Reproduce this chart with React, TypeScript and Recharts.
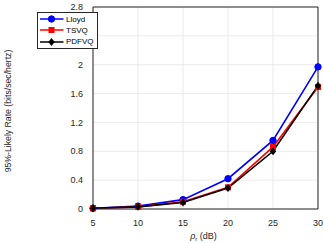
import React from "react";
import {
  LineChart,
  Line,
  XAxis,
  YAxis,
  CartesianGrid,
  Legend,
  ReferenceLine,
} from "recharts";

const rho = [5, 10, 15, 20, 25, 30];
const lloyd = [0.01, 0.04, 0.13, 0.42, 0.95, 1.97];
const tsvq = [0.01, 0.03, 0.1, 0.3, 0.86, 1.69];
const pdfvq = [0.01, 0.03, 0.09, 0.29, 0.8, 1.71];
const xTicks = [5, 10, 15, 20, 25, 30];
const yTicks = [0, 0.4, 0.8, 1.2, 1.6, 2, 2.4, 2.8];

const data = rho.map((r, i) => ({
  rho: r,
  lloyd: lloyd[i],
  tsvq: tsvq[i],
  pdfvq: pdfvq[i],
}));

const FONT = "'Liberation Sans', Arial, sans-serif";
const AXIS = "#262626";
const tickStyle = { fontSize: 9, fill: AXIS, fontFamily: FONT };

const Circle = (props: any) => {
  const { cx, cy, fill } = props;
  return <circle cx={cx} cy={cy} r={3.2} fill={fill} stroke={fill} />;
};
const Square = (props: any) => {
  const { cx, cy, fill } = props;
  return <rect x={cx - 3} y={cy - 3} width={6} height={6} fill={fill} />;
};
const Diamond = (props: any) => {
  const { cx, cy, fill } = props;
  return (
    <path
      d={`M${cx},${cy - 4}L${cx + 3.2},${cy}L${cx},${cy + 4}L${cx - 3.2},${cy}Z`}
      fill={fill}
    />
  );
};

const series = [
  { key: "lloyd", name: "Lloyd", color: "#0000ff", shape: Circle },
  { key: "tsvq", name: "TSVQ", color: "#ff0000", shape: Square },
  { key: "pdfvq", name: "PDFVQ", color: "#000000", shape: Diamond },
];

// legend as html rows so each label gets its own fixed line
const LegendBox = () => (
  <div
    style={{
      width: 59,
      height: 34,
      border: `0.8px solid ${AXIS}`,
      background: "#fff",
      padding: "0.5px 0 0 0",
      fontFamily: FONT,
      fontSize: 8,
      color: "#000",
    }}
  >
    {series.map((s) => {
      const Shape = s.shape;
      return (
        <div key={s.key} style={{ display: "flex", alignItems: "center", height: 11.3, lineHeight: "9px" }}>
          <svg width={27} height={10} style={{ display: "block" }}>
            <line x1={2} x2={25.5} y1={5} y2={5} stroke={s.color} strokeWidth={1.5} />
            <Shape cx={13.5} cy={5} fill={s.color} />
          </svg>
          <span style={{ marginLeft: 1 }}>{s.name}</span>
        </div>
      );
    })}
  </div>
);

const XLabel = (props: any) => {
  const { viewBox } = props;
  const cx = viewBox.x + viewBox.width / 2;
  return (
    <text x={cx - 2} y={viewBox.y + 29.5} fontSize={9} fontFamily={FONT} fill={AXIS} textAnchor="middle">
      <tspan fontStyle="italic">ρ</tspan>
      <tspan fontSize={6} dy={2.5}>r</tspan>
      <tspan dy={-2.5}> (dB)</tspan>
    </text>
  );
};

const YLabel = (props: any) => {
  const { viewBox } = props;
  const cy = viewBox.y + viewBox.height / 2 + 3;
  const x = 10.5;
  return (
    <text
      x={x}
      y={cy}
      fontSize={8.7}
      fontFamily={FONT}
      fill={AXIS}
      textAnchor="middle"
      transform={`rotate(-90, ${x}, ${cy})`}
    >
      95%-Likely Rate (bits/sec/hertz)
    </text>
  );
};

export default function App() {
  return (
    <div style={{ position: "absolute", left: 0, top: 0, width: 324, height: 243, background: "#fff" }}>
      <LineChart
        width={324}
        height={243}
        data={data}
        margin={{ top: 7, right: 6, bottom: 0, left: 0 }}
      >
        <CartesianGrid stroke="#e6e6e6" strokeWidth={0.8} />
        <XAxis
          dataKey="rho"
          type="number"
          domain={[5, 30]}
          ticks={xTicks}
          height={34}
          stroke={AXIS}
          tick={tickStyle}
          tickLine={false}
          tickMargin={5}
          label={<XLabel />}
        />
        <YAxis
          type="number"
          domain={[0, 2.8]}
          ticks={yTicks}
          width={32}
          stroke={AXIS}
          tick={tickStyle}
          tickLine={false}
          tickMargin={4}
          interval={0}
          label={<YLabel />}
        />
        <ReferenceLine y={2.8} stroke={AXIS} strokeWidth={1} ifOverflow="visible" />
        <ReferenceLine x={30} stroke={AXIS} strokeWidth={1} ifOverflow="visible" />
        <Legend
          layout="vertical"
          verticalAlign="top"
          align="left"
          content={<LegendBox />}
          wrapperStyle={{ position: "absolute", left: 37, top: 12, width: 61 }}
        />
        {series.map((s) => {
          const Shape = s.shape;
          return (
            <Line
              key={s.key}
              dataKey={s.key}
              name={s.name}
              stroke={s.color}
              strokeWidth={1.6}
              dot={<Shape fill={s.color} />}
              activeDot={false}
              isAnimationActive={false}
            />
          );
        })}
      </LineChart>
    </div>
  );
}
